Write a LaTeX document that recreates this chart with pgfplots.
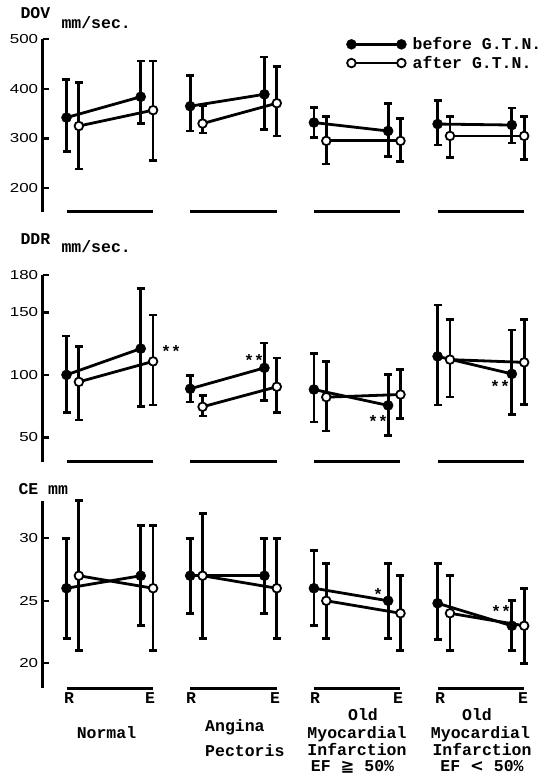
\documentclass[border=0pt]{standalone}
\usepackage{fontspec}
\setmainfont{Liberation Serif}
\setmonofont{Liberation Mono}
\newfontfamily\ticksf{Liberation Sans}
\newfontfamily\symf{DejaVu Sans}
\usepackage{pgfplots}
\pgfplotsset{compat=1.18}

\newcommand{\tw}{\ttfamily\bfseries\fontsize{16.5}{18}\selectfont}

\pgfplotsset{
  panel/.style={
    width=499.3pt, scale only axis, clip=false,
    xmin=-1.924, xmax=38.44,
    axis x line=none, axis y line*=left,
    y axis line style={line width=2.6pt},
    ytick align=inside, ytick pos=left, major tick length=6pt,
    major tick style={line width=2.4pt, black},
    yticklabel style={font=\ticksf\fontsize{13}{13}\selectfont, xscale=1.3},
    /pgf/number format/assume math mode=true,
    anchor=south west,
  },
  ebar/.style={error bars/.cd, y dir=both, y explicit,
    error bar style={line width=2.8pt, black},
    error mark options={rotate=90, line width=2.6pt, mark size=4pt, black}},
  bef/.style={black, line width=2.8pt, mark=*, mark size=5pt,
    mark options={fill=black, line width=0.5pt}, ebar},
  aft/.style={black, line width=2.8pt, mark=*, mark size=4.3pt,
    mark options={fill=white, line width=1.8pt}, ebar},
  grp/.style={black, line width=2.8pt, no markers},
}

\begin{document}
\begin{tikzpicture}
\path[use as bounding box] (0pt,0pt) rectangle (542pt,-775pt);

% DOV
\begin{axis}[panel, at={(42.7pt,-211.7pt)}, height=172.4pt,
  ymin=152.1, ymax=500, ytick={200,300,400,500},
  legend style={at={(axis description cs:0.6075,1.0)}, anchor=north west,
    yshift=4pt, draw=none, fill=none, inner sep=0pt, font=\tw, row sep=1pt},
  legend cell align=left]
\addlegendimage{legend image code/.code={
  \draw[black,line width=2.8pt] (0pt,0pt) -- (50pt,0pt);
  \fill[black] (0pt,0pt) circle (5pt); \fill[black] (50pt,0pt) circle (5pt);
  \path (59pt,0pt);}}
\addlegendimage{legend image code/.code={
  \draw[black,line width=2.8pt] (0pt,0pt) -- (50pt,0pt);
  \draw[black,fill=white,line width=1.8pt] (0pt,0pt) circle (4.3pt);
  \draw[black,fill=white,line width=1.8pt] (50pt,0pt) circle (4.3pt);
  \path (59pt,0pt);}}
\legend{before G.T.N., after G.T.N.}
\addplot[grp] coordinates {(0,152.1) (7,152.1)};
\addplot[grp] coordinates {(10,152.1) (17,152.1)};
\addplot[grp] coordinates {(20,152.1) (27,152.1)};
\addplot[grp] coordinates {(30,152.1) (37,152.1)};
% Normal
\addplot[bef] coordinates {(0,342) += (0,77) -= (0,69)  (6,384) += (0,72) -= (0,54)};
\addplot[aft] coordinates {(1,325) += (0,88) -= (0,87)  (7,357) += (0,99) -= (0,102)};
% Angina pectoris
\addplot[bef] coordinates {(10,365) += (0,62) -= (0,50)  (16,389) += (0,75) -= (0,71)};
\addplot[aft] coordinates {(11,330) += (0,37) -= (0,19)  (17,371) += (0,74) -= (0,66)};
% OMI EF >= 50
\addplot[bef] coordinates {(20,332) += (0,30) -= (0,30)  (26,315) += (0,56) -= (0,52)};
\addplot[aft] coordinates {(21,295) += (0,49) -= (0,47)  (27,295) += (0,45) -= (0,42)};
% OMI EF < 50
\addplot[bef] coordinates {(30,329) += (0,47) -= (0,42)  (36,327) += (0,34) -= (0,36)};
\addplot[aft] coordinates {(31,305) += (0,39) -= (0,43)  (37,305) += (0,39) -= (0,47)};
\end{axis}

% DDR
\begin{axis}[panel, at={(42.7pt,-461.7pt)}, height=186.9pt,
  ymin=30.6, ymax=180, ytick={50,100,150,180}]
\addplot[grp] coordinates {(0,30.6) (7,30.6)};
\addplot[grp] coordinates {(10,30.6) (17,30.6)};
\addplot[grp] coordinates {(20,30.6) (27,30.6)};
\addplot[grp] coordinates {(30,30.6) (37,30.6)};
\addplot[bef] coordinates {(0,100) += (0,31) -= (0,30)  (6,121) += (0,48) -= (0,46.5)};
\addplot[aft] coordinates {(1,94.4) += (0,28.4) -= (0,30.5)  (7,110.8) += (0,37) -= (0,35)};
\addplot[bef] coordinates {(10,88.9) += (0,10.5) -= (0,10.5)  (16,105.6) += (0,20) -= (0,26)};
\addplot[aft] coordinates {(11,74.5) += (0,9) -= (0,7.4)  (17,90.5) += (0,23) -= (0,20.7)};
\addplot[bef] coordinates {(20,88.3) += (0,28.7) -= (0,26)  (26,75.6) += (0,24.6) -= (0,23.9)};
\addplot[aft] coordinates {(21,82.2) += (0,28.6) -= (0,27.1)  (27,84.3) += (0,19.9) -= (0,19.3)};
\addplot[bef] coordinates {(30,114.8) += (0,41.2) -= (0,39)  (36,100.8) += (0,35.2) -= (0,32.4)};
\addplot[aft] coordinates {(31,112.2) += (0,32.3) -= (0,30)  (37,110) += (0,34.5) -= (0,33.6)};
\end{axis}

% CE
\begin{axis}[panel, at={(42.7pt,-688.3pt)}, height=187.6pt,
  ymin=18, ymax=33, ytick={20,25,30}]
\addplot[grp] coordinates {(0,18) (7,18)};
\addplot[grp] coordinates {(10,18) (17,18)};
\addplot[grp] coordinates {(20,18) (27,18)};
\addplot[grp] coordinates {(30,18) (37,18)};
\addplot[bef] coordinates {(0,26) +- (0,4)  (6,27) +- (0,4)};
\addplot[aft] coordinates {(1,27) +- (0,6)  (7,26) +- (0,5)};
\addplot[bef] coordinates {(10,27) +- (0,3)  (16,27) +- (0,3)};
\addplot[aft] coordinates {(11,27) +- (0,5)  (17,26) +- (0,4)};
\addplot[bef] coordinates {(20,26) +- (0,3)  (26,25) +- (0,3)};
\addplot[aft] coordinates {(21,25) +- (0,3)  (27,24) +- (0,3)};
\addplot[bef] coordinates {(30,24.8) += (0,3.2) -= (0,2.9)  (36,23) +- (0,2)};
\addplot[aft] coordinates {(31,24) +- (0,3)  (37,23) +- (0,3)};
\end{axis}

% panel titles
\node[anchor=base west, font=\tw] at (17pt,-18.5pt) {DOV};
\node[anchor=base west, font=\tw] at (58pt,-28.5pt) {mm/sec.};
\node[anchor=base west, font=\tw] at (17pt,-244pt) {DDR};
\node[anchor=base west, font=\tw] at (58pt,-252.3pt) {mm/sec.};
\node[anchor=base west, font=\tw] at (15pt,-494pt) {CE mm};

% significance marks
\node[font=\tw] at (171pt,-352pt) {**};
\node[font=\tw] at (254pt,-361pt) {**};
\node[font=\tw] at (378pt,-422pt) {**};
\node[font=\tw] at (500pt,-387pt) {**};
\node[font=\tw] at (378pt,-595pt) {*};
\node[font=\tw] at (501pt,-612pt) {**};

% R / E
\foreach \x in {69,191,315,440} \node[anchor=base, font=\tw] at (\x pt,-703pt) {R};
\foreach \x in {150,275,398,523} \node[anchor=base, font=\tw] at (\x pt,-703pt) {E};

% group names
\node[anchor=base, font=\tw] at (106.5pt,-738pt) {Normal};
\node[anchor=base west, font=\tw] at (201.7pt,-731pt) {Angina};
\node[anchor=base west, font=\tw] at (201.7pt,-756pt) {Pectoris};
\node[anchor=base, font=\tw] at (363pt,-720.7pt) {Old};
\node[anchor=base, font=\tw] at (357pt,-738.3pt) {Myocardial};
\node[anchor=base, font=\tw] at (357pt,-755pt) {Infarction};
\node[anchor=base, font=\tw] at (352.5pt,-771.7pt) {EF {\symf ≧} 50\%};
\node[anchor=base, font=\tw] at (477pt,-720.7pt) {Old};
\node[anchor=base, font=\tw] at (480.5pt,-738.3pt) {Myocardial};
\node[anchor=base, font=\tw] at (482pt,-755pt) {Infarction};
\node[anchor=base, font=\tw] at (482pt,-771.7pt) {EF {\symf <} 50\%};
\end{tikzpicture}
\end{document}
